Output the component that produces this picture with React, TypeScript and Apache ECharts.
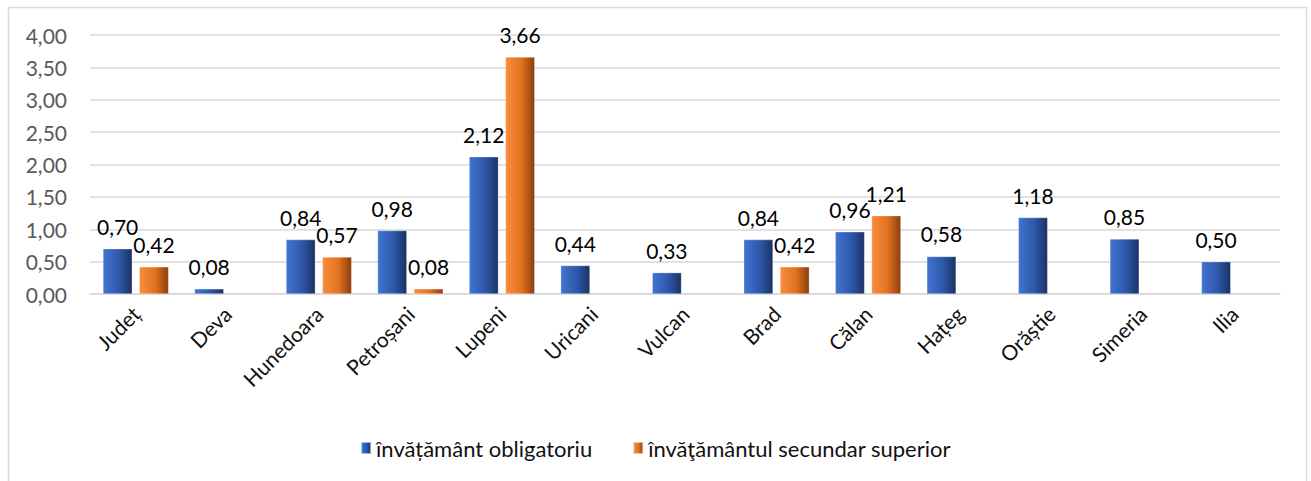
import React, { useEffect, useRef } from "react";
import * as echarts from "echarts";

const categories = ["Județ", "Deva", "Hunedoara", "Petroșani", "Lupeni", "Uricani", "Vulcan", "Brad", "Călan", "Hațeg", "Orăștie", "Simeria", "Ilia"];
const obligatoriu = [0.70, 0.08, 0.84, 0.98, 2.12, 0.44, 0.33, 0.84, 0.96, 0.58, 1.18, 0.85, 0.50];
const secundar = [0.42, null, 0.57, 0.08, 3.66, null, null, 0.42, 1.21, null, null, null, null];
const seriesNames = ["învățământ obligatoriu", "învăţământul secundar superior"];

const fmt = (v: number) => v.toFixed(2).replace(".", ",");
const FONT = "Lato";

export default function App() {
  const ref = useRef<HTMLDivElement>(null);
  useEffect(() => {
    document.body.style.margin = "0";
    const chart = echarts.init(ref.current!, null, { renderer: "svg" });
    const blue = new echarts.graphic.LinearGradient(0, 0, 1, 0, [
      { offset: 0, color: "#4274d0" },
      { offset: 0.55, color: "#2d58ab" },
      { offset: 1, color: "#1b3262" },
    ]);
    const orange = new echarts.graphic.LinearGradient(0, 0, 1, 0, [
      { offset: 0, color: "#f98c3e" },
      { offset: 0.55, color: "#e2721f" },
      { offset: 1, color: "#8a3e0e" },
    ]);
    const label = {
      show: true,
      position: "top" as const,
      distance: 12,
      color: "#000",
      fontFamily: FONT,
      fontSize: 21,
      formatter: (p: any) => (p.value == null ? "" : fmt(p.value)),
    };
    chart.setOption({
      animation: false,
      graphic: [
        {
          type: "rect",
          shape: { x: 8.5, y: 7.5, width: 1298, height: 480 },
          style: { fill: "none", stroke: "#d9d9d9", lineWidth: 1.5 },
          silent: true,
        },
      ],
      grid: { left: 90, right: 31, top: 35, bottom: 187, containLabel: false },
      legend: {
        top: 432,
        left: "center",
        icon: "rect",
        itemWidth: 10,
        itemHeight: 12,
        itemGap: 40,
        textStyle: { fontFamily: FONT, fontSize: 22, color: "#111" },
        data: seriesNames,
      },
      xAxis: {
        type: "category",
        data: categories,
        axisTick: { show: false },
        axisLine: { lineStyle: { color: "#d9d9d9", width: 1.5 } },
        axisLabel: {
          rotate: 45,
          interval: 0,
          margin: 16,
          fontFamily: FONT,
          fontSize: 21,
          color: "#111",
        },
      },
      yAxis: {
        type: "value",
        min: 0,
        max: 4,
        interval: 0.5,
        axisLine: { show: false },
        axisTick: { show: false },
        splitLine: { lineStyle: { color: "#d9d9d9", width: 1.5 } },
        axisLabel: {
          margin: 23,
          fontFamily: FONT,
          fontSize: 21,
          color: "#595959",
          formatter: (v: number) => fmt(v),
        },
      },
      series: [
        {
          name: seriesNames[0],
          type: "bar",
          data: obligatoriu,
          barWidth: "32%",
          barGap: "24%",
          itemStyle: { color: blue, borderColor: "rgba(255,255,255,0.6)", borderWidth: 0.5 },
          label,
        },
        {
          name: seriesNames[1],
          type: "bar",
          data: secundar,
          barWidth: "32%",
          itemStyle: { color: orange, borderColor: "rgba(255,255,255,0.6)", borderWidth: 0.5 },
          label,
        },
      ],
    });
    return () => chart.dispose();
  }, []);
  return <div ref={ref} style={{ width: 1311, height: 481 }} />;
}
